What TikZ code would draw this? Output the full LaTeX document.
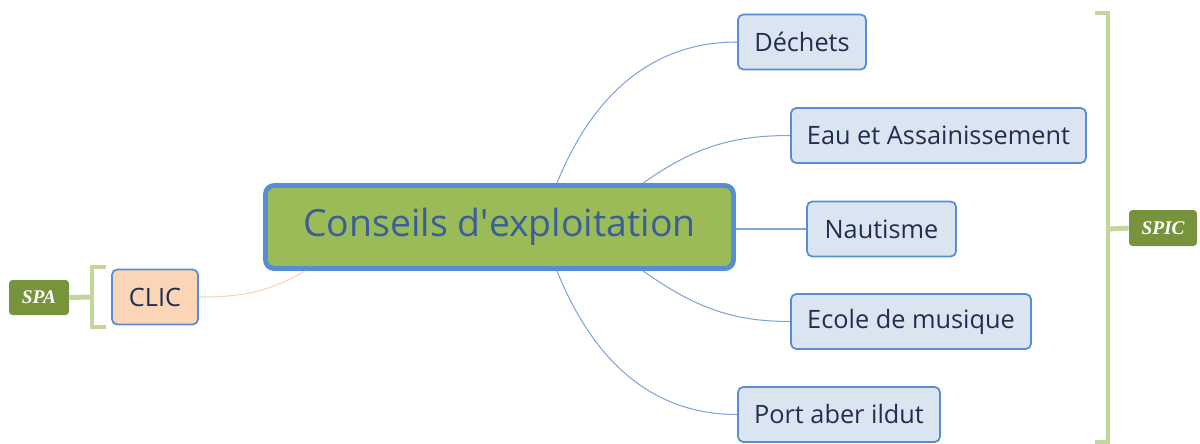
\documentclass[tikz,border=0pt]{standalone}
\usepackage{fontspec}
\setmainfont{Open Sans}
\newfontfamily\tagfont{Liberation Serif}
\definecolor{branchfill}{HTML}{DBE5F1}
\definecolor{branchdraw}{HTML}{558ED5}
\definecolor{branchtext}{HTML}{1F2F4F}
\definecolor{mainfill}{HTML}{9BBB59}
\definecolor{maintext}{HTML}{3B5E98}
\definecolor{linkblue}{HTML}{7FA5DA}
\definecolor{clicfill}{HTML}{FBD5B5}
\definecolor{linkpeach}{HTML}{FAD3B6}
\definecolor{tagfill}{HTML}{77933C}
\definecolor{bracket}{HTML}{C3D69B}
\tikzset{
  branch/.style={draw=branchdraw,fill=branchfill,text=branchtext,line width=1pt,rounded corners=3pt,font=\fontsize{14.4}{17}\selectfont,minimum height=1.1cm},
  tagbox/.style={fill=tagfill,text=white,rounded corners=2pt,font=\tagfont\bfseries\itshape\fontsize{11}{13}\selectfont},
  link/.style={linkblue,line width=0.6pt},
  brace/.style={bracket,line width=2.8pt}
}
\begin{document}
\begin{tikzpicture}
    \useasboundingbox (0,0) rectangle (24,-8.86);
    \node[draw=branchdraw,fill=mainfill,text=maintext,line width=2.8pt,rounded corners=5pt,minimum width=9.36cm,minimum height=1.66cm,font=\fontsize{21.3}{25}\selectfont](cent) at (9.99,-4.54) {Conseils d\textquotesingle exploitation};
    \node[branch,minimum width=2.56cm](dech) at (16.04,-0.84) {Déchets};
    \node[branch,minimum width=5.9cm](eau) at (18.77,-2.71) {Eau et Assainissement};
    \node[branch,minimum width=2.98cm](naut) at (17.63,-4.58) {Nautisme};
    \node[branch,minimum width=4.8cm](ecole) at (18.22,-6.43) {Ecole de musique};
    \node[branch,minimum width=4.04cm](port) at (16.78,-8.29) {Port aber ildut};
    \node[branch,fill=clicfill,minimum width=1.72cm](clic) at (3.1,-5.94) {CLIC};
    \node[tagbox,minimum width=1.2cm,minimum height=0.7cm](spa) at (0.78,-5.95) {SPA};
    \node[tagbox,minimum width=1.36cm,minimum height=0.72cm](spic) at (23.26,-4.56) {SPIC};
    % branches
    \draw [link] ([xshift=1.15cm]cent.north) to[out=68,in=180] (dech.west);
    \draw [link] ([xshift=2.87cm]cent.north) to[out=35,in=180] (eau.west);
    \draw [link] (cent.east |- naut.west) -- (naut.west);
    \draw [link] ([xshift=2.87cm]cent.south) to[out=-35,in=180] (ecole.west);
    \draw [link] ([xshift=1.15cm]cent.south) to[out=-68,in=180] (port.west);
    \draw [linkpeach,line width=0.6pt] ([xshift=-3.89cm]cent.south) to[out=-150,in=0] (clic.east);
    % brackets
    \draw [brace] (2.12,-5.34) -- (1.84,-5.34) -- (1.84,-6.54) -- (2.12,-6.54);
    \draw [brace] (1.84,-5.94) -- (spa.east);
    \draw [brace] (21.9,-0.26) -- (22.16,-0.26) -- (22.16,-8.84) -- (21.9,-8.84);
    \draw [brace] (22.16,-4.58) -- (spic.west);
\end{tikzpicture}
\end{document}
